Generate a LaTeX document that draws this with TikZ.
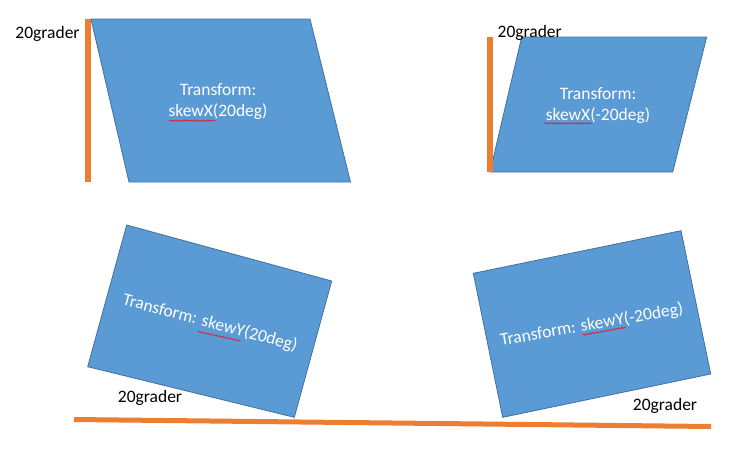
\documentclass[tikz,border=0pt]{standalone}
\usepackage{fontspec}
\setmainfont{Carlito}
\usetikzlibrary{decorations.pathmorphing}
\definecolor{fillblue}{HTML}{5B9BD5}
\definecolor{edgeblue}{HTML}{41719C}
\definecolor{barorange}{HTML}{ED7D31}
\begin{document}
\begin{tikzpicture}[x=1pt,y=-1pt,
  panel/.style={fill=fillblue,draw=edgeblue,line width=0.8pt,line join=miter},
  bar/.style={draw=barorange,line width=6pt},
  lowbar/.style={draw=barorange,line width=5pt},
  lbl/.style={font=\fontsize{17.5}{21}\selectfont,text=white,align=center,inner sep=0pt},
  note/.style={font=\fontsize{17.5}{21}\selectfont,text=black,inner sep=0pt},
  squiggle/.style={draw=red,line width=0.5pt,decorate,decoration={snake,amplitude=0.7pt,segment length=3pt}}]
\useasboundingbox (0,0) rectangle (741,453);
% panels
\draw[panel] (91,19) -- (310,19) -- (350.5,182) -- (129,182) -- cycle;
\draw[panel] (521.7,37) -- (706.7,37) -- (672.7,172) -- (490,172) -- cycle;
\draw[panel] (126.7,225) -- (331.7,281) -- (294.3,417.3) -- (87.7,366.7) -- cycle;
\draw[panel] (473.3,273.3) -- (681,230.7) -- (710.7,374) -- (502.7,417.3) -- cycle;
% texts in panels
\node[lbl] (t1) at (218,101.5) {Transform:\\skewX(20deg)};
\node[lbl] (t2) at (598,106) {Transform:\\skewX(-20deg)};
\node[lbl,rotate=-15] (t3) at (210,323) {Transform: skewY(20deg)};
\node[lbl,rotate=10] (t4) at (591.7,325) {Transform: skewY(-20deg)};
% spelling squiggles
\coordinate (s1a) at (169,120.7); \coordinate (s1b) at (215.7,120.7);
\coordinate (s2a) at (544,123.3); \coordinate (s2b) at (591.7,123.3);
\coordinate (s3a) at (198.3,331.7); \coordinate (s3b) at (241,341);
\coordinate (s4a) at (582.7,335); \coordinate (s4b) at (625.7,327.3);
\draw[squiggle] (s1a) -- (s1b);
\draw[squiggle] (s2a) -- (s2b);
\draw[squiggle] (s3a) -- (s3b);
\draw[squiggle] (s4a) -- (s4b);
% orange bars
\coordinate (b1a) at (88,19); \coordinate (b1b) at (88,182);
\coordinate (b2a) at (490,37); \coordinate (b2b) at (490,172);
\coordinate (b3a) at (74,419.5); \coordinate (b3b) at (711,426.5);
\draw[bar] (b1a) -- (b1b);
\draw[bar] (b2a) -- (b2b);
\draw[lowbar] (b3a) -- (b3b);
% angle labels
\node[note] (g1) at (47.5,34) {20grader};
\node[note] (g2) at (529.7,33) {20grader};
\node[note] (g3) at (150,398) {20grader};
\node[note] (g4) at (665,406) {20grader};
\end{tikzpicture}
\end{document}
